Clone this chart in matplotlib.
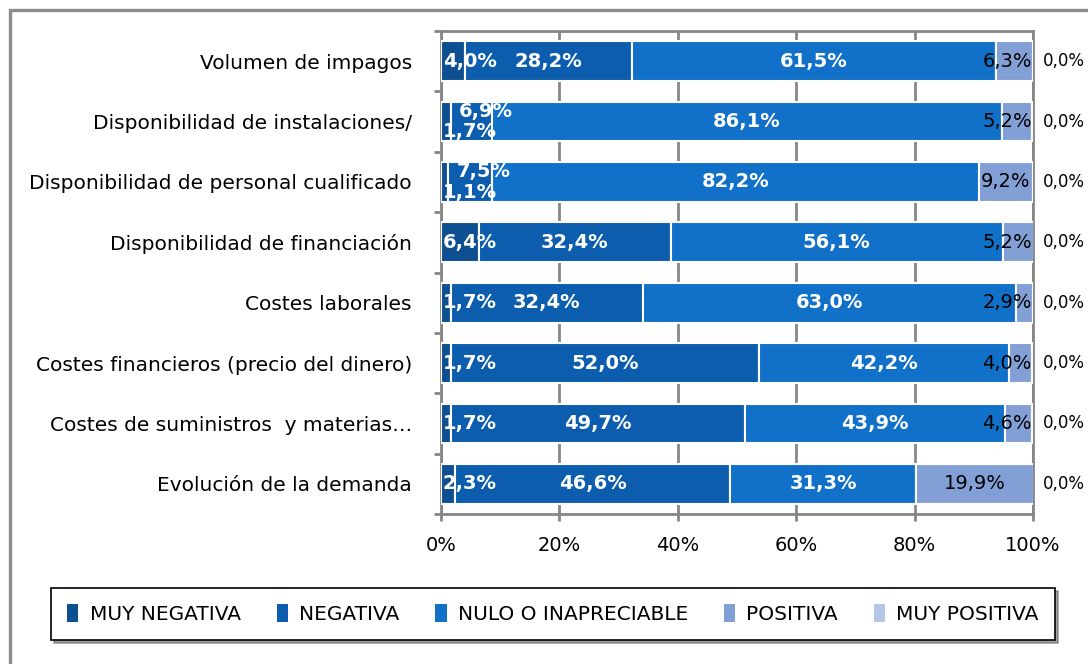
import matplotlib
matplotlib.use("Agg")
import matplotlib.pyplot as plt
import matplotlib.patches as patches
import numpy as np

plt.rcParams['font.family'] = ['DejaVu Sans']

# datos (porcentajes)
categorias = [
    "Volumen de impagos",
    "Disponibilidad de instalaciones/",
    "Disponibilidad de personal cualificado",
    "Disponibilidad de financiación",
    "Costes laborales",
    "Costes financieros (precio del dinero)",
    "Costes de suministros  y materias…",
    "Evolución de la demanda",
]
series = ["MUY NEGATIVA", "NEGATIVA", "NULO O INAPRECIABLE", "POSITIVA", "MUY POSITIVA"]
muy_negativa = [4.0, 1.7, 1.1, 6.4, 1.7, 1.7, 1.7, 2.3]
negativa = [28.2, 6.9, 7.5, 32.4, 32.4, 52.0, 49.7, 46.6]
nulo = [61.5, 86.1, 82.2, 56.1, 63.0, 42.2, 43.9, 31.3]
positiva = [6.3, 5.2, 9.2, 5.2, 2.9, 4.0, 4.6, 19.9]
muy_positiva = [0.0, 0.0, 0.0, 0.0, 0.0, 0.0, 0.0, 0.0]
xticks = [0, 20, 40, 60, 80, 100]

colores = ["#0e4f92", "#0c5dad", "#1170c8", "#83a0d6", "#b4c6e7"]
color_txt = ["white", "white", "white", "black", "black"]
peso_txt = ["bold", "bold", "bold", "normal", "normal"]
tam_txt = [14, 14, 14, 14, 12]

valores = [muy_negativa, negativa, nulo, positiva, muy_positiva]

fig = plt.figure(figsize=(10.88, 6.64), dpi=100)
ax = fig.add_axes([441 / 1088, 1 - 514 / 664, 592 / 1088, 483 / 664])

# marco del grafico (recortado por la derecha y abajo)
marco = patches.Rectangle((10 / 1088, -0.2), 1.2, 1.2 - 10 / 664, transform=fig.transFigure,
                          fill=False, edgecolor="#8c8c8c", linewidth=2.4, zorder=0)
fig.patches.append(marco)

y = np.arange(len(categorias))
izq = np.zeros(len(categorias))
rects = []
for i, vals in enumerate(valores):
    ax.barh(y, vals, left=izq, height=0.66, color=colores[i], edgecolor="white",
            linewidth=1.5, label=series[i], zorder=3)
    rects.append((izq.copy(), np.array(vals)))
    izq = izq + np.array(vals)

medio = 4.5  # semiancho aprox. de una etiqueta, en unidades del eje
for i, (lefts, vals) in enumerate(rects):
    for j in range(len(categorias)):
        v = vals[j]
        txt = ("%.1f%%" % v).replace(".", ",")
        cx = lefts[j] + v / 2
        yy = y[j]
        ha = "center"
        if i == 4:
            cx, ha = 101.6, "left"
        elif cx - medio < 0:
            cx, ha = 0.3, "left"
        elif cx + medio > 100:
            cx, ha = 99.8, "right"
        # etiquetas solapadas en segmentos pequenos
        if i < 2 and muy_negativa[j] < 3 and negativa[j] < 10:
            yy = y[j] + (0.17 if i == 0 else -0.17)
            if i == 1:
                cx = lefts[j] + v / 2 + 2.4
        ax.text(cx, yy, txt, ha=ha, va="center", color=color_txt[i],
                fontweight=peso_txt[i], fontsize=tam_txt[i], zorder=5, clip_on=False)

ax.set_xlim(0, 100)
ax.set_ylim(len(categorias) - 0.5, -0.5)
ax.set_xticks(xticks)
ax.set_xticklabels(["%d%%" % t for t in xticks], fontsize=14)
ax.set_yticks(y)
ax.set_yticklabels(categorias, fontsize=14.5)
ax.set_yticks(np.arange(-0.5, len(categorias)), minor=True)
ax.tick_params(axis="y", which="major", length=0, pad=21)
ax.tick_params(axis="y", which="minor", length=5, width=2, color="#868686", direction="out")
ax.tick_params(axis="x", length=5, width=2, color="#868686", direction="out", pad=10.5)
ax.xaxis.grid(True, color="#868686", linewidth=2, zorder=0)
ax.set_axisbelow(True)
for s in ax.spines.values():
    s.set_color("#868686")
    s.set_linewidth(2)

leg = fig.legend(loc="center", bbox_to_anchor=(553 / 1088, 1 - 614 / 664), ncol=5,
                 fontsize=14.5, frameon=True, fancybox=False, shadow=True,
                 handlelength=0.55, handleheight=1.0, handletextpad=0.55,
                 columnspacing=1.8, borderpad=0.8, borderaxespad=0)
leg.get_frame().set_edgecolor("black")
leg.get_frame().set_linewidth(1.2)
for h in leg.legend_handles:
    h.set_edgecolor("none")

fig.savefig("out.png", dpi=100)
